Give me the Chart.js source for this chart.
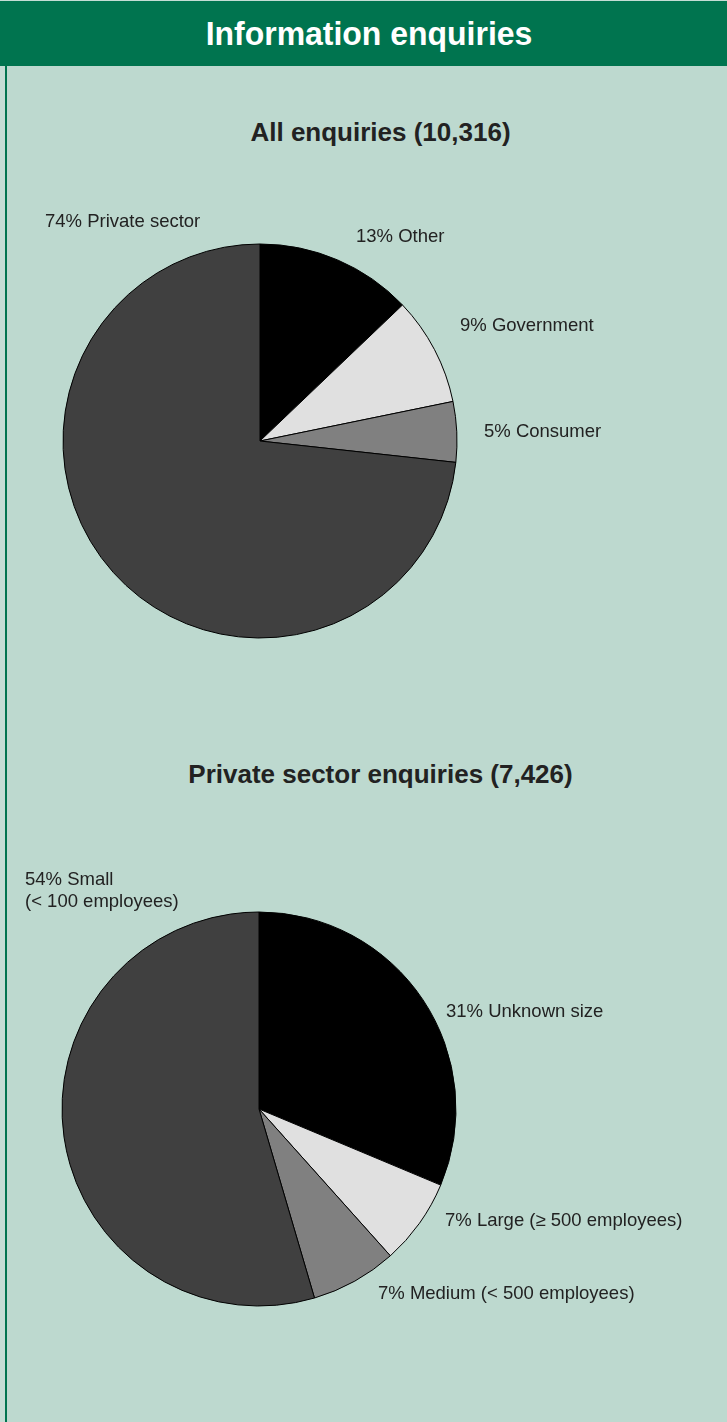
<!DOCTYPE html>
<html>
<head>
<meta charset="utf-8">
<title>Information enquiries</title>
<script src="https://cdn.jsdelivr.net/npm/chart.js@4/dist/chart.umd.min.js"></script>
<style>
    html, body {
        margin: 0;
        padding: 0;
        background: #ffffff;
        font-family: "Liberation Sans", Arial, Helvetica, sans-serif;
    }
    #page {
        position: relative;
        width: 727px;
        height: 1422px;
        overflow: hidden;
        background: #c4ddd5;
    }
    #header {
        position: absolute;
        left: 0;
        top: 1px;
        width: 727px;
        height: 65px;
        background: #00744f;
    }
    #header span {
        position: absolute;
        left: 0;
        width: 738px;
        top: 0;
        line-height: 64px;
        text-align: center;
        color: #ffffff;
        font-weight: bold;
        font-size: 34px;
        transform: scaleX(0.94);
        transform-origin: 369px 0;
    }
    #panel {
        position: absolute;
        left: 5px;
        top: 66px;
        width: 720px;
        height: 1356px;
        background: #bdd9cf;
        border-left: 2px solid #00744f;
    }
    .pie-title {
        position: absolute;
        left: 0;
        width: 761px;
        margin: 0;
        text-align: center;
        font-size: 26px;
        font-weight: bold;
        color: #222222;
    }
    canvas {
        position: absolute;
        left: 0;
    }
</style>
</head>
<body>
<div id="page">
    <div id="header"><span>Information enquiries</span></div>
    <div id="panel"></div>
    <h2 class="pie-title" style="top:117px">All enquiries (10,316)</h2>
    <h2 class="pie-title" style="top:759px">Private sector enquiries (7,426)</h2>
    <canvas id="pie-all" width="727" height="720" style="top:0"></canvas>
    <canvas id="pie-private" width="727" height="702" style="top:720px"></canvas>
</div>

<script>
// All enquiries, split by sector (percent)
const allLabels = ['Other', 'Government', 'Consumer', 'Private sector'];
const allValues = [13, 9, 5, 74];

// Private sector enquiries, split by company size (percent)
const privateLabels = ['Unknown size', 'Large (\u2265 500 employees)', 'Medium (< 500 employees)', 'Small\n(< 100 employees)'];
const privateValues = [31, 7, 7, 54];

const sliceColors = ['#000000', '#e0e0e0', '#808080', '#404040'];

// where each slice label sits, relative to the pie centre (left edge, middle of first line)
const allLabelPos = [[96, -204], [200, -115], [224, -9], [-215, -219]];
const privateLabelPos = [[187, -97], [186, 112], [119, 185], [-234, -229]];

/**
 * Draws "NN% Name" text next to the pie, one entry per slice
 */
const sliceLabels = {
    id: 'sliceLabels',
    afterDraw(chart, args, opts) {
        const ctx = chart.ctx;
        const arc = chart.getDatasetMeta(0).data[0];
        const values = chart.data.datasets[0].data;
        ctx.save();
        ctx.font = '18.5px "Liberation Sans", Arial, sans-serif';
        ctx.fillStyle = '#222222';
        ctx.textAlign = 'left';
        ctx.textBaseline = 'middle';
        chart.data.labels.forEach((name, i) => {
            const lines = (values[i] + '% ' + name).split('\n');
            const [dx, dy] = opts.positions[i];
            lines.forEach((line, j) => {
                ctx.fillText(line, arc.x + dx, arc.y + dy + j * 22);
            });
        });
        ctx.restore();
    }
};

function makePie(id, labels, values, positions, padding) {
    return new Chart(document.getElementById(id), {
        type: 'pie',
        data: {
            labels: labels,
            datasets: [{
                data: values,
                backgroundColor: sliceColors,
                borderColor: '#000000',
                borderWidth: 1,
                radius: 197
            }]
        },
        options: {
            responsive: false,
            animation: false,
            events: [],
            layout: { padding: padding },
            plugins: {
                legend: { display: false },
                tooltip: { enabled: false },
                sliceLabels: { positions: positions }
            }
        },
        plugins: [sliceLabels]
    });
}

makePie('pie-all', allLabels, allValues, allLabelPos, { left: 0, right: 207, top: 162, bottom: 0 });
makePie('pie-private', privateLabels, privateValues, privateLabelPos, { left: 0, right: 209, top: 76, bottom: 0 });
</script>
</body>
</html>
